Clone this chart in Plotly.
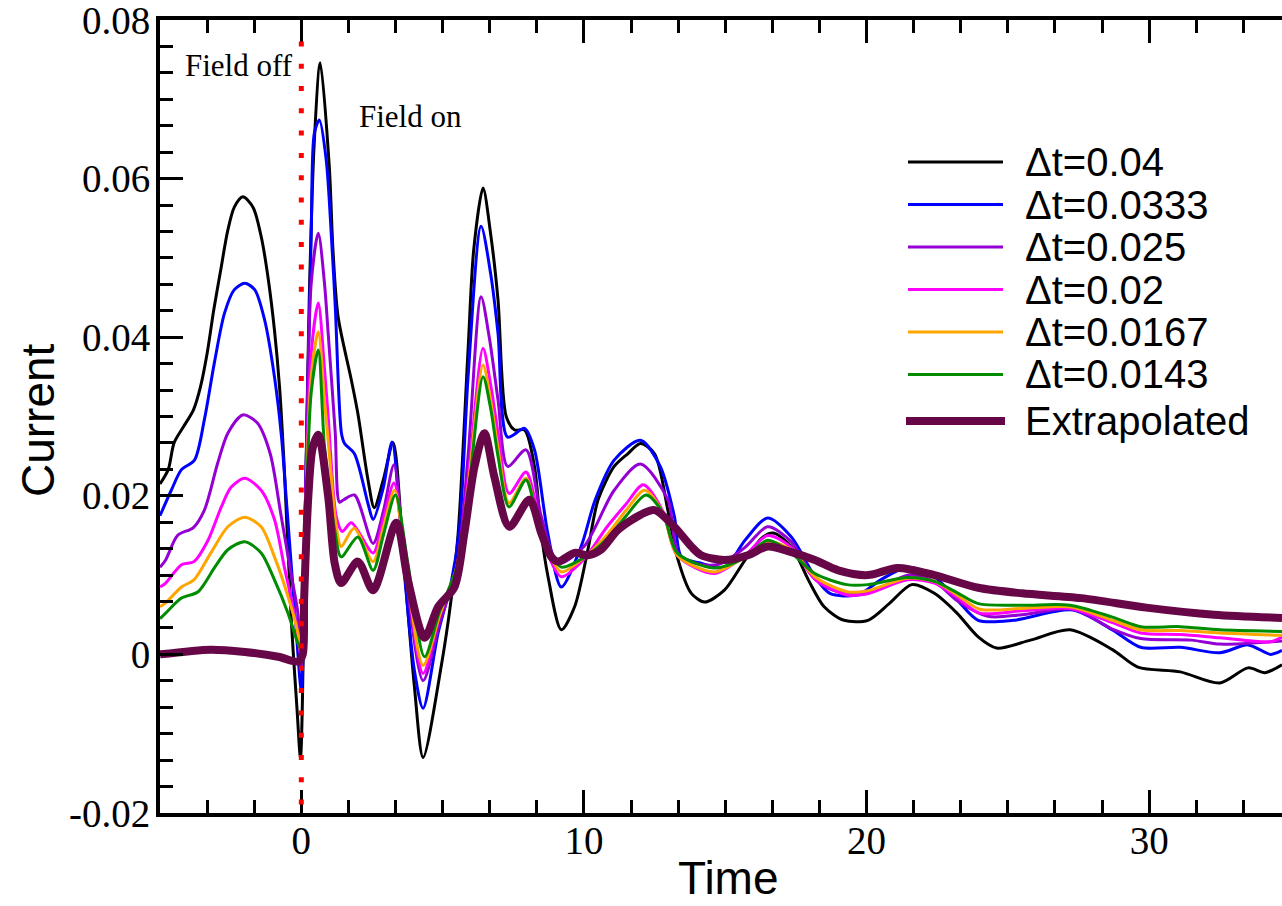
import plotly.graph_objects as go

# ---- data: current response for several time steps ----
labels = ["Δt=0.04", "Δt=0.0333", "Δt=0.025", "Δt=0.02", "Δt=0.0167", "Δt=0.0143", "Extrapolated"]

t_040 = [-5.0, -4.71, -4.5, -4.17, -3.82, -3.57, -3.33, -3.1, -2.85, -2.6, -2.37, -2.07, -1.71, -1.42, -1.18,
         -0.95, -0.77, -0.6, -0.35, -0.15, -0.03,
         0.15, 0.28, 0.45, 0.67, 0.99, 1.12, 1.3, 1.77, 2.0, 2.36, 2.58, 2.9, 3.25, 3.6, 4.0, 4.31, 4.95, 5.3, 5.55,
         5.9, 6.1, 6.43, 6.7, 6.96, 7.25, 7.55, 7.9, 8.25, 8.49, 8.73, 9.2, 9.67, 10.14, 10.5, 11.07, 11.55, 12.0,
         12.5, 12.97, 13.3, 13.8, 14.27, 14.97, 15.7, 16.3, 16.7, 17.34, 17.94, 18.5, 19.2, 20.05, 20.8, 21.6, 22.4,
         23.2, 23.95, 24.6, 25.8, 27.2, 28.7, 29.6, 31.1, 32.5, 33.5, 34.1, 34.7]
j_040 = [0.0215, 0.0233, 0.0267, 0.0287, 0.0308, 0.0337, 0.038, 0.0434, 0.0485, 0.0535, 0.0564, 0.0577, 0.0564,
         0.0527, 0.0476, 0.0409, 0.0337, 0.0233, 0.004, -0.007, -0.013,
         0.02, 0.0446, 0.064, 0.0746, 0.0615, 0.051, 0.0426, 0.0346, 0.0304, 0.022, 0.0185,
         0.022, 0.0267, 0.013, -0.004, -0.013, -0.0015, 0.0069, 0.0153, 0.0384, 0.051, 0.0588, 0.053, 0.0447,
         0.030, 0.0283, 0.0283, 0.0237, 0.0153, 0.0098, 0.0031, 0.006, 0.0132, 0.0195, 0.0237, 0.0253, 0.0266,
         0.0253, 0.0182, 0.0123, 0.0077, 0.0066, 0.0081, 0.0119, 0.0147, 0.0153, 0.0136, 0.0094, 0.006, 0.0043,
         0.0043, 0.0064, 0.0088, 0.0077, 0.0052, 0.0022, 0.0008, 0.0018, 0.0031, 0.0006, -0.0016, -0.0022,
         -0.0036, -0.0017, -0.0023, -0.0013]

t_0333 = [-5.0, -4.6, -4.24, -3.78, -3.43, -3.08, -2.72, -2.37, -2.0, -1.65, -1.3, -0.95, -0.7, -0.53, -0.2, 0.0,
          0.15, 0.35, 0.46, 0.64, 0.88, 1.06, 1.2, 1.42, 1.53, 1.88, 2.36, 2.54, 2.9, 3.21, 3.6, 4.0, 4.31, 4.84,
          5.3, 5.6, 5.9, 6.36, 6.7, 6.96, 7.3, 7.9, 8.25, 8.72, 9.2, 9.9, 10.4, 11.07, 12.0, 12.7, 13.2, 13.45,
          14.15, 14.97, 15.7, 16.5, 17.34, 18.17, 18.7, 19.7, 20.5, 21.45, 22.4, 23.2, 23.95, 25.2, 27.3, 28.7,
          29.7, 31.1, 32.5, 33.5, 34.3, 34.7]
j_0333 = [0.0175, 0.0207, 0.0233, 0.0245, 0.0296, 0.0367, 0.043, 0.046, 0.0468, 0.046, 0.0422, 0.035, 0.0274,
          0.0195, 0.004, -0.0045,
          0.02, 0.053, 0.0657, 0.0674, 0.0624, 0.053, 0.044, 0.0279, 0.0266, 0.0253, 0.019, 0.017, 0.021,
          0.0268, 0.012, -0.002, -0.0068, 0.0027, 0.009, 0.016, 0.035, 0.054, 0.048, 0.0405, 0.0274, 0.0285, 0.0258,
          0.0153, 0.0085, 0.0136, 0.0195, 0.0245, 0.027, 0.0237, 0.0174, 0.0123, 0.0115, 0.0109, 0.0144, 0.0172,
          0.0148, 0.0098, 0.0077, 0.0075, 0.0094, 0.011, 0.0098, 0.0069, 0.0043, 0.0043, 0.0056, 0.0031, 0.0009,
          0.0009, 0.0002, 0.0012, 0.0, 0.0005]

t_025 = [-5.0, -4.8, -4.38, -3.82, -3.43, -2.96, -2.6, -2.07, -1.56, -1.1, -0.73, -0.37, -0.12, 0.0, 0.15, 0.35,
         0.6, 0.82, 0.95, 1.2, 1.35, 1.5, 1.88, 2.54, 2.9, 3.28, 3.7, 4.31, 4.9, 5.5, 5.9, 6.36, 6.65, 6.96, 7.3,
         7.95, 8.49, 9.1, 10.0, 11.07, 12.0, 12.97, 13.4, 14.7, 15.7, 16.5, 17.34, 18.17, 18.8, 20.0, 21.5, 22.4,
         23.2, 24.3, 25.5, 27.3, 28.7, 29.7, 31.5, 32.5, 34.7]
j_025 = [0.0110, 0.0119, 0.015, 0.016, 0.0182, 0.0241, 0.0279, 0.0302, 0.0292, 0.0253, 0.0178, 0.0103, 0.0052,
         -0.0015, 0.02, 0.0468, 0.0531, 0.0468, 0.0405, 0.028, 0.0192, 0.0195, 0.0201, 0.014, 0.018, 0.0239, 0.010,
         -0.0033, 0.004, 0.011, 0.025, 0.0451, 0.040, 0.0321, 0.0237, 0.0258, 0.0174, 0.0115, 0.0136, 0.0207,
         0.024, 0.0195, 0.0123, 0.0113, 0.0135, 0.0161, 0.0142, 0.0095, 0.0081, 0.0077, 0.0100, 0.0092, 0.0068,
         0.0048, 0.005, 0.0057, 0.0032, 0.002, 0.0018, 0.0013, 0.0017]

t_020 = [-5.0, -4.8, -4.24, -3.8, -3.3, -2.83, -2.48, -2.0, -1.42, -0.95, -0.6, -0.25, -0.07, 0.02, 0.15, 0.35,
         0.6, 0.82, 0.95, 1.24, 1.45, 1.77, 2.54, 2.9, 3.28, 3.7, 4.31, 4.9, 5.5, 5.9, 6.43, 6.7, 6.96, 7.35, 7.95,
         8.3, 8.8, 9.2, 10.0, 10.8, 11.5, 12.1, 12.8, 13.3, 14.6, 15.7, 16.5, 17.34, 18.17, 19.3, 20.0, 21.45,
         22.4, 23.2, 24.0, 25.5, 27.2, 28.7, 29.7, 31.1, 32.5, 34.3, 34.7]
j_020 = [0.0085, 0.009, 0.0113, 0.0117, 0.0144, 0.0186, 0.0211, 0.0222, 0.0207, 0.017, 0.011, 0.0052, 0.001,
         -0.001, 0.018, 0.038, 0.0443, 0.036, 0.030, 0.0173, 0.0155, 0.0166, 0.0128, 0.017, 0.0216, 0.011, -0.0024,
         0.005, 0.011, 0.022, 0.0386, 0.034, 0.028, 0.0203, 0.023, 0.019, 0.012, 0.0098, 0.012, 0.016, 0.019,
         0.0214, 0.018, 0.0125, 0.0102, 0.0125, 0.015, 0.0135, 0.0095, 0.0075, 0.0076, 0.0094, 0.0090, 0.0072,
         0.0052, 0.0055, 0.0058, 0.004, 0.0027, 0.0025, 0.0021, 0.0016, 0.0022]

t_0167 = [-5.0, -4.8, -4.24, -3.8, -3.2, -2.6, -2.0, -1.42, -0.95, -0.47, -0.12, 0.02, 0.15, 0.35, 0.6, 0.82, 0.95,
          1.24, 1.41, 1.87, 2.54, 2.9, 3.3, 3.7, 4.31, 4.9, 5.5, 5.9, 6.43, 6.7, 6.96, 7.35, 7.95, 8.3, 8.8, 9.2,
          10.0, 10.8, 11.5, 12.15, 12.8, 13.3, 14.6, 15.7, 16.5, 17.34, 18.17, 19.3, 20.0, 21.45, 22.4, 23.2, 24.0,
          25.5, 27.2, 28.7, 29.7, 31.1, 32.5, 34.7]
j_0167 = [0.0060, 0.0065, 0.0085, 0.0094, 0.0128, 0.0161, 0.0173, 0.0161, 0.0123, 0.0073, 0.0027, -0.0005, 0.017,
          0.035, 0.0407, 0.032, 0.027, 0.016, 0.0136, 0.0159, 0.0117, 0.016, 0.0207, 0.011, -0.0014, 0.005, 0.011,
          0.021, 0.0365, 0.032, 0.026, 0.0191, 0.0222, 0.018, 0.0125, 0.0104, 0.0122, 0.015, 0.0182, 0.0207,
          0.0178, 0.0125, 0.0104, 0.0123, 0.0142, 0.0132, 0.0098, 0.0079, 0.0080, 0.0096, 0.0092, 0.0075, 0.0057,
          0.0058, 0.0060, 0.0043, 0.0031, 0.0030, 0.0027, 0.0024]

t_0143 = [-5.0, -4.8, -4.24, -3.65, -3.06, -2.6, -2.0, -1.42, -0.95, -0.47, -0.12, 0.02, 0.15, 0.35, 0.6, 0.82,
          1.18, 1.41, 2.0, 2.54, 2.9, 3.33, 3.77, 4.36, 4.9, 5.5, 5.9, 6.43, 6.7, 6.96, 7.35, 7.95, 8.3, 8.8, 9.2,
          10.0, 10.8, 11.5, 12.2, 12.8, 13.3, 14.6, 15.7, 16.5, 17.34, 18.17, 19.3, 20.05, 21.45, 22.4, 23.2,
          23.95, 25.5, 27.2, 28.7, 29.7, 31.1, 32.5, 34.7]
j_0143 = [0.0045, 0.0052, 0.0071, 0.0079, 0.011, 0.0132, 0.0142, 0.0128, 0.0094, 0.0052, 0.0014, 0.0005, 0.016,
          0.033, 0.0384, 0.0262, 0.0157, 0.0123, 0.0148, 0.0106, 0.015, 0.0201, 0.0115, -0.0003, 0.0055, 0.011,
          0.020, 0.035, 0.031, 0.025, 0.0186, 0.022, 0.018, 0.013, 0.011, 0.0122, 0.0145, 0.0175, 0.0201, 0.0178,
          0.0128, 0.0109, 0.0122, 0.0144, 0.0128, 0.0102, 0.0088, 0.0088, 0.0097, 0.0092, 0.0078, 0.0064, 0.0062,
          0.0062, 0.0047, 0.0035, 0.0035, 0.0031, 0.0029]

t_ext = [-5.0, -3.2, -2.0, -0.82, -0.1, 0.05, 0.1, 0.25, 0.4, 0.6, 0.95, 1.18, 1.41, 2.0, 2.54, 3.36, 3.77, 4.36,
         4.84, 5.42, 5.77, 6.13, 6.48, 6.83, 7.36, 8.07, 8.49, 8.84, 9.08, 9.67, 10.14, 10.6, 11.2, 12.0, 12.5,
         13.2, 13.8, 14.15, 14.97, 15.8, 16.5, 17.34, 18.17, 19.0, 20.05, 21.1, 22.4, 23.95, 25.5, 27.6, 29.9,
         32.3, 34.7]
j_ext = [0.0, 0.0006, 0.0003, -0.0003, -0.0009, 0.0, 0.007, 0.02, 0.026, 0.0277, 0.0199, 0.0115, 0.009, 0.0117,
         0.0081, 0.0166, 0.0094, 0.0021, 0.006, 0.0085, 0.0153, 0.0237, 0.0279, 0.0224, 0.0161, 0.0195, 0.0153,
         0.0123, 0.0117, 0.0128, 0.0125, 0.0132, 0.0157, 0.0176, 0.0182, 0.0161, 0.0136, 0.0125, 0.0119, 0.0125,
         0.0136, 0.0129, 0.0119, 0.0106, 0.01, 0.0109, 0.01, 0.0084, 0.0077, 0.0071, 0.0059, 0.005, 0.0046]

times = [t_040, t_0333, t_025, t_020, t_0167, t_0143, t_ext]
currents = [j_040, j_0333, j_025, j_020, j_0167, j_0143, j_ext]

field_switch_time = 0.0
marker_top = 0.0773

# ---- styling ----
colors = ["#000000", "#0000ff", "#9400d3", "#ff00ff", "#ffa500", "#008b00", "#670748"]
widths = [3, 3, 3, 3, 3, 3, 8]
serif = "Liberation Serif, Times New Roman, serif"
sans = "Liberation Sans, Arial, Helvetica, sans-serif"

W, H = 1282, 906
ML, MR, MT, MB = 160, 0, 20, 93
PW, PH = W - ML - MR, H - MT - MB

fig = go.Figure()
for t, j, c, w, name in zip(times, currents, colors, widths, labels):
    assert len(t) == len(j), name
    fig.add_trace(go.Scatter(x=t, y=j, mode="lines", name=name,
                             line=dict(color=c, width=w, shape="spline", smoothing=0.8),
                             showlegend=False, hoverinfo="skip"))

# vertical marker for the field switch
fig.add_shape(type="line", xref="x", yref="y", x0=field_switch_time, x1=field_switch_time,
              y0=marker_top, y1=-0.02, line=dict(color="#ff0000", width=5, dash="5px,17.3px"), layer="above")

ann = []
ann.append(dict(x=field_switch_time, y=0.0743, xref="x", yref="y", text="Field off", showarrow=False,
                xanchor="right", yanchor="middle", xshift=-6, font=dict(family=serif, size=31, color="black")))
ann.append(dict(x=field_switch_time, y=0.0678, xref="x", yref="y", text="Field on", showarrow=False,
                xanchor="left", yanchor="middle", xshift=56, font=dict(family=serif, size=31, color="black")))

# axis titles
ann.append(dict(x=(728 - ML) / PW, y=(H - MB - 878) / PH, xref="paper", yref="paper", text="Time",
                showarrow=False, xanchor="center", yanchor="middle",
                font=dict(family=sans, size=46, color="black")))
ann.append(dict(x=(38 - ML) / PW, y=(H - MB - 420) / PH, xref="paper", yref="paper", text="Current",
                showarrow=False, xanchor="center", yanchor="middle", textangle=-90,
                font=dict(family=sans, size=46, color="black")))

# legend drawn as line samples and labels
row0, gap = 162, 42.5
for i, (name, c, w) in enumerate(zip(labels, colors, widths)):
    ypx = row0 + gap * i + (4 if i == len(labels) - 1 else 0)
    yp = (H - MB - ypx) / PH
    x0 = (908 - ML) / PW if w < 5 else (906 - ML) / PW
    x1 = (1003 - ML) / PW if w < 5 else (1005 - ML) / PW
    fig.add_shape(type="line", xref="paper", yref="paper", x0=x0, x1=x1, y0=yp, y1=yp,
                  line=dict(color=c, width=w))
    ann.append(dict(x=(1023 - ML) / PW, y=yp, xref="paper", yref="paper", text=name, showarrow=False,
                    xanchor="left", yanchor="middle", font=dict(family=sans, size=40, color="black")))

x_ticks = [0, 10, 20, 30]
y_ticks = [-0.02, 0, 0.02, 0.04, 0.06, 0.08]
y_text = ["-0.02", "0", "0.02", "0.04", "0.06", "0.08"]

fig.update_layout(
    width=W, height=H, margin=dict(l=ML, r=MR, t=MT, b=MB),
    plot_bgcolor="white", paper_bgcolor="white", showlegend=False,
    annotations=ann,
    xaxis=dict(range=[-5, 34.7], showline=True, linewidth=4, linecolor="black", mirror="allticks",
               ticks="inside", ticklen=23, tickwidth=3, tickcolor="black",
               tickmode="array", tickvals=x_ticks, ticktext=[str(v) for v in x_ticks],
               tickfont=dict(family=serif, size=39, color="black"), ticklabelstandoff=-10,
               ticklabeloverflow="allow", showgrid=False, zeroline=False,
               minor=dict(ticks="inside", ticklen=13, tickwidth=3, tickcolor="black",
                          tickmode="linear", tick0=0, dtick=10 / 6, showgrid=False)),
    yaxis=dict(range=[-0.02, 0.08], showline=True, linewidth=4, linecolor="black", mirror=False,
               ticks="inside", ticklen=23, tickwidth=3, tickcolor="black",
               tickmode="array", tickvals=y_ticks, ticktext=y_text,
               tickfont=dict(family=serif, size=39, color="black"), ticklabelstandoff=-2,
               ticklabeloverflow="allow", showgrid=False, zeroline=False,
               minor=dict(ticks="inside", ticklen=13, tickwidth=3, tickcolor="black",
                          tickmode="linear", tick0=0, dtick=0.02 / 6, showgrid=False)),
    yaxis2=dict(range=[-0.02, 0.08], overlaying="y", side="right", anchor="x", showline=False,
                ticks="inside", ticklen=15, tickwidth=3, tickcolor="black",
                tickmode="array", tickvals=y_ticks, showticklabels=False,
                showgrid=False, zeroline=False,
                minor=dict(ticks="inside", ticklen=4, tickwidth=3, tickcolor="black",
                           tickmode="linear", tick0=0, dtick=0.02 / 6, showgrid=False)),
)

fig.write_html("out.html")
